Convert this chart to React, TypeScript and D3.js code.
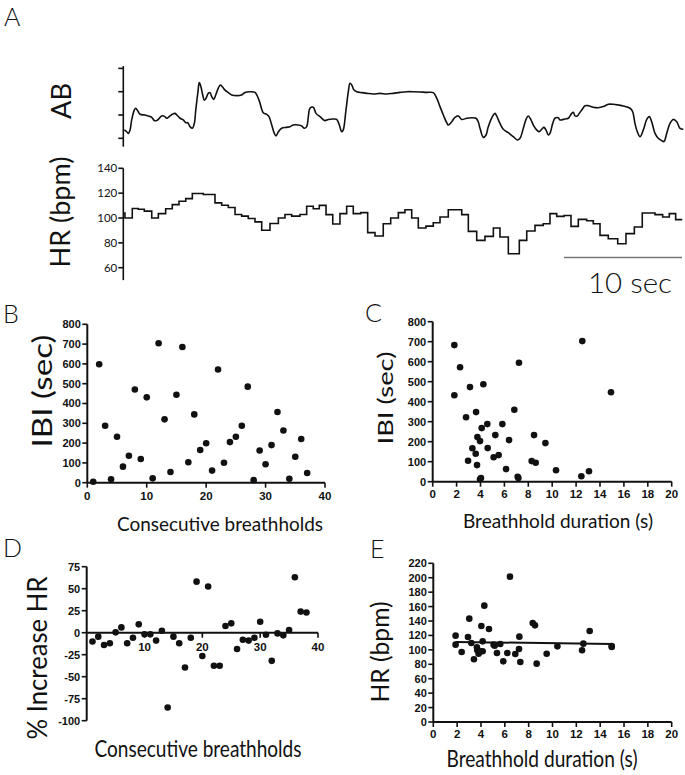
import React from 'react';
import * as d3 from 'd3';

// ---------- Panel A: abdominal (AB) trace, time in s, arbitrary units ----------
const abTime = [0.08,0.29,0.42,0.57,0.71,0.93,1.05,1.22,1.42,1.84,2.12,2.41,2.63,2.83,2.97,3.25,3.53,3.67,3.96,4.15,4.38,4.61,4.81,5.08,5.29,5.46,5.65,5.85,6.02,6.14,6.31,6.44,6.58,6.73,6.86,7.01,7.20,7.35,7.49,7.66,7.83,8.05,8.22,8.39,8.62,8.90,9.19,9.61,10.03,10.31,10.74,11.16,11.50,11.86,12.15,12.35,12.58,12.80,12.94,13.14,13.42,13.85,14.13,14.41,14.83,15.12,15.34,15.54,15.68,15.82,16.10,16.33,16.67,17.09,17.37,17.80,18.08,18.31,18.51,18.64,18.87,19.07,19.21,19.36,19.55,19.78,20.20,20.63,21.19,21.75,22.32,22.88,23.45,24.02,24.58,25.14,25.71,26.27,26.56,26.84,27.12,27.41,27.54,27.83,28.11,28.39,28.68,29.10,29.53,29.89,30.08,30.23,30.51,30.74,30.93,31.36,31.50,31.64,31.92,32.20,32.63,33.05,33.39,33.62,33.90,34.13,34.32,34.53,34.75,35.03,35.25,35.46,35.65,35.82,36.02,36.16,36.39,36.58,36.86,37.01,37.43,37.71,38.00,38.14,38.28,38.47,38.64,38.85,39.13,39.41,39.83,40.25,40.68,41.10,41.53,41.95,42.37,42.94,43.17,43.36,43.56,43.79,44.07,44.36,44.58,44.78,45.06,45.34,45.63,45.82,46.05,46.33,46.61,46.90,47.18,47.46];
const abValue = [0.36,0.28,0.21,0.36,0.79,1.21,1.29,1.18,1.03,1.00,0.96,0.90,0.76,0.76,0.81,0.96,0.93,0.86,0.96,1.03,1.07,0.96,0.86,0.79,0.67,0.67,0.50,0.43,0.64,1.21,1.93,2.39,2.21,1.86,1.64,1.72,1.93,1.96,1.79,1.67,1.86,2.15,2.29,2.21,2.07,1.96,1.86,1.83,1.86,1.97,2.00,1.97,1.64,1.10,1.03,0.93,0.57,0.21,0.10,0.28,0.43,0.47,0.50,0.57,0.57,0.53,0.43,0.50,0.93,1.29,1.33,1.07,0.93,0.76,0.81,0.83,0.81,0.57,0.28,0.36,1.21,2.00,2.36,2.29,2.07,2.00,1.96,1.93,1.90,1.93,1.90,1.93,1.97,2.00,2.00,1.99,1.97,1.96,1.72,1.36,1.00,0.67,0.57,0.71,0.90,0.96,0.81,0.86,0.88,0.86,0.71,0.43,0.04,0.14,0.50,1.00,1.07,0.96,0.64,0.39,0.24,0.07,-0.07,0.00,0.43,0.81,0.96,0.81,0.57,0.36,0.28,0.39,0.47,0.36,0.14,0.21,0.64,0.86,0.88,0.79,0.83,0.86,1.07,1.12,0.96,0.96,1.07,1.21,1.40,1.40,1.33,1.31,1.36,1.46,1.46,1.43,1.39,1.29,1.14,0.64,0.28,0.07,0.36,0.81,0.93,0.71,0.21,0.00,-0.10,-0.14,0.21,0.64,0.81,0.71,0.43,0.39];
const abTicks = [0, 1, 2, 3];

// ---------- Panel A: heart rate step trace (start time of each beat, bpm) ----------
const hrTime = [0.00,0.14,0.76,1.27,1.78,2.41,2.97,3.59,4.15,4.72,5.29,5.85,6.78,7.77,8.34,8.90,9.47,10.03,10.59,11.16,11.73,12.43,13.14,13.70,14.27,14.97,15.54,16.10,16.61,17.18,17.75,18.36,18.93,19.49,20.12,20.71,21.33,22.03,22.66,23.31,23.87,24.44,25.00,25.65,26.27,26.84,27.54,28.68,29.24,29.95,30.65,31.36,31.92,32.63,33.56,34.19,34.89,35.59,36.16,36.73,37.35,37.94,38.56,39.27,39.83,40.40,41.10,41.90,42.60,43.31,43.98,45.06,45.71,46.27,46.81];
const hrBpm = [104,100,107.6,107,105.5,100,103.5,107.5,110.8,113.5,115.6,119.7,118.9,112.2,110.3,108.5,102.8,101.5,99.6,96.9,90.2,95.6,100,102.8,101.5,102.8,109.5,107.5,110.2,102.7,95.2,103.5,109.4,103.5,104.3,88.2,85.5,95.4,100,104.3,106.7,100,91.9,93.5,96.2,100.8,106.7,102.7,89.2,82,85.2,92,84.7,71.2,82,89.5,94.1,95.4,103.5,101.3,102,93.3,98.9,97.8,95.4,86,83.3,79.3,87.4,92.7,104,102.7,100.8,103.5,98.7];
const hrEndTime = 47.37;
const hrTicks = [60, 80, 100, 120, 140];
const scaleBarStart = 37.35;
const scaleBarLength = 10;

// ---------- Panel B ----------
const bBreathhold = [1,2,3,4,5,6,7,8,9,10,11,12,13,14,15,16,17,18,19,20,21,22,23,24,25,26,27,28,29,30,31,32,33,34,35,36,37];
const bIBI = [5,598,288,17,232,81,136,471,120,431,22,704,320,54,444,685,103,345,165,199,61,572,101,205,232,288,485,13,163,93,190,357,264,20,131,221,49];

// ---------- Panel C ----------
const cDuration = [1.81,2.29,1.81,3.12,4.24,7.22,12.52,14.92,2.79,3.63,6.83,4.10,4.57,5.83,3.74,3.96,5.24,6.39,8.48,9.43,3.32,4.60,3.60,5.52,5.10,2.96,8.28,8.62,3.71,6.14,10.32,13.08,4.04,3.96,7.11,7.17,12.44];
const cIBI = [683,572,432,473,487,595,703,447,322,348,360,268,288,288,223,203,233,208,233,193,167,168,140,133,122,105,103,95,83,63,57,52,18,12,25,18,27];

// ---------- Panel D ----------
const dBreathhold = [1,2,3,4,5,6,7,8,9,10,11,12,13,14,15,16,17,18,19,20,21,22,23,24,25,26,27,28,29,30,31,32,33,34,35,36,37,38];
const dIncrease = [-10,-4.5,-14,-12,0.4,6,-12,-5.7,9.5,-1.9,-1.9,-9,2.3,-85,-4.5,-12,-39.5,-5.7,58,-26.5,52.5,-37.5,-37.5,7.6,10.6,-18.6,-8,-9,-5.7,12.5,-2.3,-32,-0.8,-3,3,63,24,23];

// ---------- Panel E ----------
const eDuration = [1.87,1.87,2.38,2.91,3.02,3.19,3.41,3.66,3.69,3.80,3.92,4.03,4.14,4.14,4.28,4.67,5.06,5.15,5.34,5.62,5.87,6.21,6.43,6.88,7.19,7.22,7.30,8.34,8.53,8.67,9.51,10.41,12.48,12.59,13.12,14.97,14.97];
const eHR = [119.7,107.2,97,117.8,143.3,109.5,86.9,103.5,99.4,94.7,98,133.1,111.8,98,161.3,128.9,107.2,105.8,95.7,108.1,84.1,95.7,201.5,94.3,101.2,118.3,83.2,137.2,134,80.9,94.7,104.9,99.4,108.6,126.2,105.4,104];
const eFitX = [1.87, 14.97];
const eFitY = [111, 108.2];

const TITLE_FONT = "Lato, 'Open Sans', 'DejaVu Sans', sans-serif";
const TICK_FONT = "'Liberation Sans', Arial, sans-serif";
const INK = '#111';

function RotLabel({ cx, cy, text, size, len, weight = 400 }: { cx: number; cy: number; text: string; size: number; len: number; weight?: number }) {
  return (
    <text transform={`translate(${cx},${cy}) rotate(-90)`} textAnchor="middle" dy="0.35em"
      fontFamily={TITLE_FONT} fontWeight={weight} fontSize={size} textLength={len} lengthAdjust="spacingAndGlyphs" fill={INK}>
      {text}
    </text>
  );
}

function Label({ x, y, text, size, len, anchor = 'middle', weight = 400 }: { x: number; y: number; text: string; size: number; len?: number; anchor?: string; weight?: number }) {
  return (
    <text x={x} y={y} textAnchor={anchor} fontFamily={TITLE_FONT} fontWeight={weight} fontSize={size}
      textLength={len} lengthAdjust={len ? 'spacingAndGlyphs' : undefined} fill={INK}>
      {text}
    </text>
  );
}

type PanelProps = {
  xs: number[]; ys: number[];
  xDomain: [number, number]; yDomain: [number, number];
  xRange: [number, number]; yRange: [number, number];
  xTicks: number[]; yTicks: number[];
  xAxisValue: number; xLabelOffset: number;
  fit?: { x: number[]; y: number[] };
};

function ScatterPanel(p: PanelProps) {
  const x = d3.scaleLinear().domain(p.xDomain).range(p.xRange);
  const y = d3.scaleLinear().domain(p.yDomain).range(p.yRange);
  const axisY = y(p.xAxisValue);
  const x0 = x(p.xDomain[0]);
  const fitLine = p.fit ? d3.line<number>().x((d) => x(d)).y((_, i) => y(p.fit!.y[i]))(p.fit.x) : null;
  return (
    <g>
      <line x1={x0} x2={x0} y1={y(p.yDomain[0])} y2={y(p.yDomain[1])} stroke={INK} strokeWidth={2} />
      <line x1={x0} x2={x(p.xDomain[1])} y1={axisY} y2={axisY} stroke={INK} strokeWidth={2} />
      {p.yTicks.map((t) => (
        <g key={'y' + t}>
          <line x1={x0 - 5} x2={x0} y1={y(t)} y2={y(t)} stroke={INK} strokeWidth={1.6} />
          <text x={x0 - 6.5} y={y(t)} dy="0.36em" textAnchor="end" fontFamily={TICK_FONT} fontWeight="bold" fontSize={11} fill={INK}>{t}</text>
        </g>
      ))}
      {p.xTicks.map((t) => (
        <g key={'x' + t}>
          <line x1={x(t)} x2={x(t)} y1={axisY} y2={axisY + 5} stroke={INK} strokeWidth={1.6} />
          <text x={x(t)} y={axisY + p.xLabelOffset} textAnchor="middle" fontFamily={TICK_FONT} fontWeight="bold" fontSize={11.5} fill={INK}>{t}</text>
        </g>
      ))}
      {fitLine && <path d={fitLine} fill="none" stroke={INK} strokeWidth={2} />}
      {p.xs.map((v, i) => (
        <circle key={i} cx={x(v)} cy={y(p.ys[i])} r={3.3} fill={INK} />
      ))}
    </g>
  );
}

export default function App() {
  // panel A scales
  const t = d3.scaleLinear().domain([0, 47.5]).range([123.3, 683.8]);
  const ab = d3.scaleLinear().domain([0, 3]).range([138.3, 68.4]);
  const hr = d3.scaleLinear().domain([60, 140]).range([267.7, 168.3]);
  const axisXA = t(0);

  const abPath = d3.line<number>().x((d) => t(d)).y((_, i) => ab(abValue[i])).curve(d3.curveCatmullRom.alpha(0.5))(abTime);
  const hrPts: [number, number][] = hrTime.map((d, i) => [d, hrBpm[i]]);
  hrPts.push([hrEndTime, hrBpm[hrBpm.length - 1]]);
  const hrPath = d3.line<[number, number]>().x((d) => t(d[0])).y((d) => hr(d[1])).curve(d3.curveStepAfter)(hrPts);

  return (
    <svg width={685} height={775} style={{ position: 'absolute', left: 0, top: 0, background: '#fff' }}>
      <rect width={685} height={775} fill="#fff" />
      {/* Panel A */}
      <Label x={4} y={26} text="A" size={25} anchor="start" weight={300} />
      <RotLabel cx={62} cy={101} text="AB" size={26} len={36} />
      <line x1={axisXA} x2={axisXA} y1={ab(3.1)} y2={ab(-0.36)} stroke={INK} strokeWidth={1.6} />
      {abTicks.map((v) => (
        <line key={v} x1={axisXA - 5} x2={axisXA} y1={ab(v)} y2={ab(v)} stroke={INK} strokeWidth={1.6} />
      ))}
      <path d={abPath || ''} fill="none" stroke={INK} strokeWidth={1.6} strokeLinejoin="round" />

      <RotLabel cx={61} cy={212} text="HR (bpm)" size={26} len={111} />
      <line x1={axisXA} x2={axisXA} y1={hr(140)} y2={hr(50)} stroke={INK} strokeWidth={1.6} />
      {hrTicks.map((v) => (
        <g key={v}>
          <line x1={axisXA - 5} x2={axisXA} y1={hr(v)} y2={hr(v)} stroke={INK} strokeWidth={1.6} />
          <text x={axisXA - 6} y={hr(v)} dy="0.36em" textAnchor="end" fontFamily={TITLE_FONT} fontSize={11.5} fill={INK}>{v}</text>
        </g>
      ))}
      <path d={hrPath || ''} fill="none" stroke={INK} strokeWidth={1.6} />
      <line x1={t(scaleBarStart)} x2={t(scaleBarStart + scaleBarLength)} y1={257.5} y2={257.5} stroke="#777" strokeWidth={1.5} />
      <Label x={630} y={293} text="10 sec" size={28} len={84} weight={300} />

      {/* Panel B */}
      <Label x={3} y={323} text="B" size={25} anchor="start" weight={300} />
      <RotLabel cx={43} cy={391} text="IBI (sec)" size={26} len={113} />
      <ScatterPanel xs={bBreathhold} ys={bIBI} xDomain={[0, 40]} yDomain={[0, 800]}
        xRange={[87.3, 325]} yRange={[482.7, 324.3]}
        xTicks={[0, 10, 20, 30, 40]} yTicks={[0, 100, 200, 300, 400, 500, 600, 700, 800]}
        xAxisValue={0} xLabelOffset={17} />
      <Label x={220} y={531} text="Consecutive breathholds" size={19} len={206} />

      {/* Panel C */}
      <Label x={365} y={322} text="C" size={25} anchor="start" weight={300} />
      <RotLabel cx={385} cy={398} text="IBI (sec)" size={22} len={93} />
      <ScatterPanel xs={cDuration} ys={cIBI} xDomain={[0, 20]} yDomain={[0, 800]}
        xRange={[432.7, 671.7]} yRange={[481.7, 321.7]}
        xTicks={[0, 2, 4, 6, 8, 10, 12, 14, 16, 18, 20]} yTicks={[0, 100, 200, 300, 400, 500, 600, 700, 800]}
        xAxisValue={0} xLabelOffset={16.5} />
      <Label x={558} y={528} text="Breathhold duration (s)" size={19} len={190} />

      {/* Panel D */}
      <Label x={3} y={557} text="D" size={25} anchor="start" weight={300} />
      <RotLabel cx={38} cy={658} text="% Increase HR" size={26} len={163} />
      <ScatterPanel xs={dBreathhold} ys={dIncrease} xDomain={[0, 40]} yDomain={[-100, 75]}
        xRange={[86.7, 318]} yRange={[720.7, 566.7]}
        xTicks={[10, 20, 30, 40]} yTicks={[-100, -75, -50, -25, 0, 25, 50, 75]}
        xAxisValue={0} xLabelOffset={18} />
      <Label x={198} y={757} text="Consecutive breathholds" size={23} len={207} />

      {/* Panel E */}
      <Label x={370} y={558} text="E" size={25} anchor="start" weight={300} />
      <RotLabel cx={380} cy={652} text="HR (bpm)" size={25} len={101} />
      <ScatterPanel xs={eDuration} ys={eHR} xDomain={[0, 20]} yDomain={[0, 220]}
        xRange={[433.3, 671.7]} yRange={[722, 563.3]}
        xTicks={[0, 2, 4, 6, 8, 10, 12, 14, 16, 18, 20]}
        yTicks={[0, 20, 40, 60, 80, 100, 120, 140, 160, 180, 200, 220]}
        xAxisValue={0} xLabelOffset={15.5} fit={{ x: eFitX, y: eFitY }} />
      <Label x={542} y={767} text="Breathhold duration (s)" size={23} len={191} />
    </svg>
  );
}
